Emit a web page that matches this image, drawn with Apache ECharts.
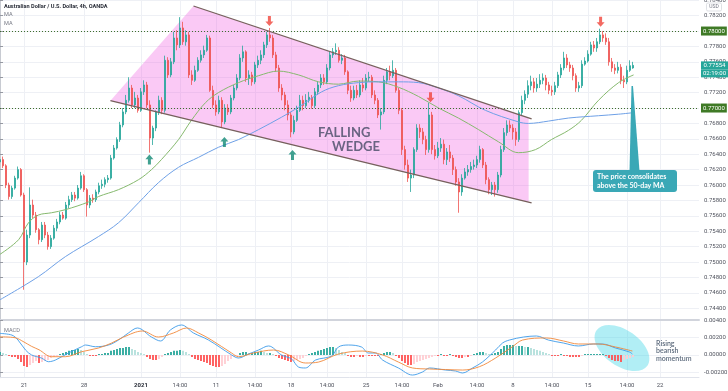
<!DOCTYPE html>
<html><head><meta charset="utf-8">
<script src="https://cdn.jsdelivr.net/npm/echarts/dist/echarts.min.js"></script>
<style>html,body{margin:0;padding:0;background:#fff}#c{width:728px;height:391px}</style>
</head><body><div id="c"></div>
<script>
// ---- data ----
const tickLabels = ['21','28','2021','14:00','11','14:00','18','14:00','25','14:00','Feb','14:00','8','14:00','15','14:00','22'];
const tickIndex  = [8,28,47,60,72,85,97,109,122,134,146,159,171,184,196,209,220];
const slotCount = 234;

// [open, close, low, high]
const candles = [
[0.7630,0.7633,0.7625,0.7639],[0.7633,0.7625,0.7622,0.7637],[0.7625,0.7600,0.7596,0.7627],[0.7600,0.7585,0.7581,0.7603],
[0.7585,0.7596,0.7582,0.7599],[0.7596,0.7609,0.7594,0.7612],[0.7609,0.7620,0.7607,0.7624],[0.7620,0.7587,0.7585,0.7622],
[0.7587,0.7500,0.7464,0.7590],[0.7500,0.7535,0.7496,0.7542],[0.7535,0.7574,0.7531,0.7597],[0.7574,0.7561,0.7557,0.7581],
[0.7561,0.7542,0.7538,0.7565],[0.7542,0.7529,0.7523,0.7544],[0.7529,0.7548,0.7526,0.7552],[0.7548,0.7535,0.7531,0.7552],
[0.7535,0.7520,0.7516,0.7539],[0.7520,0.7531,0.7517,0.7535],[0.7531,0.7544,0.7529,0.7548],[0.7544,0.7552,0.7540,0.7556],
[0.7552,0.7561,0.7549,0.7565],[0.7561,0.7557,0.7555,0.7565],[0.7557,0.7574,0.7555,0.7578],[0.7574,0.7581,0.7570,0.7586],
[0.7581,0.7587,0.7578,0.7591],[0.7587,0.7583,0.7579,0.7591],[0.7583,0.7596,0.7581,0.7600],[0.7596,0.7612,0.7594,0.7617],
[0.7612,0.7594,0.7591,0.7614],[0.7594,0.7574,0.7559,0.7596],[0.7574,0.7583,0.7570,0.7587],[0.7583,0.7581,0.7577,0.7588],
[0.7581,0.7591,0.7578,0.7594],[0.7591,0.7599,0.7588,0.7603],[0.7599,0.7601,0.7595,0.7607],[0.7601,0.7607,0.7597,0.7610],
[0.7607,0.7609,0.7603,0.7613],[0.7609,0.7635,0.7607,0.7639],[0.7635,0.7648,0.7633,0.7652],[0.7648,0.7659,0.7646,0.7662],
[0.7659,0.7678,0.7656,0.7682],[0.7678,0.7695,0.7675,0.7700],[0.7695,0.7710,0.7692,0.7717],[0.7710,0.7726,0.7707,0.7740],
[0.7726,0.7704,0.7700,0.7730],[0.7704,0.7713,0.7700,0.7721],[0.7713,0.7697,0.7694,0.7717],[0.7697,0.7721,0.7695,0.7726],
[0.7721,0.7730,0.7717,0.7736],[0.7730,0.7704,0.7700,0.7734],[0.7704,0.7661,0.7642,0.7710],[0.7661,0.7674,0.7652,0.7677],
[0.7674,0.7695,0.7670,0.7697],[0.7695,0.7710,0.7691,0.7716],[0.7710,0.7697,0.7692,0.7714],[0.7697,0.7762,0.7694,0.7768],
[0.7762,0.7743,0.7739,0.7766],[0.7743,0.7760,0.7740,0.7765],[0.7760,0.7791,0.7757,0.7799],[0.7791,0.7782,0.7775,0.7801],
[0.7782,0.7804,0.7778,0.7818],[0.7804,0.7786,0.7782,0.7812],[0.7786,0.7795,0.7781,0.7801],[0.7795,0.7743,0.7739,0.7799],
[0.7743,0.7736,0.7730,0.7749],[0.7736,0.7749,0.7734,0.7755],[0.7749,0.7762,0.7747,0.7766],[0.7762,0.7769,0.7759,0.7775],
[0.7769,0.7775,0.7765,0.7781],[0.7775,0.7791,0.7773,0.7795],[0.7791,0.7723,0.7721,0.7794],[0.7723,0.7704,0.7700,0.7729],
[0.7704,0.7695,0.7690,0.7710],[0.7695,0.7710,0.7692,0.7716],[0.7710,0.7682,0.7674,0.7714],[0.7682,0.7700,0.7679,0.7705],
[0.7700,0.7695,0.7691,0.7705],[0.7695,0.7713,0.7692,0.7717],[0.7713,0.7726,0.7710,0.7730],[0.7726,0.7739,0.7723,0.7744],
[0.7739,0.7765,0.7736,0.7770],[0.7765,0.7773,0.7760,0.7781],[0.7773,0.7739,0.7734,0.7775],[0.7739,0.7743,0.7730,0.7749],
[0.7743,0.7734,0.7729,0.7747],[0.7734,0.7756,0.7731,0.7760],[0.7756,0.7762,0.7752,0.7768],[0.7762,0.7769,0.7757,0.7775],
[0.7769,0.7782,0.7765,0.7786],[0.7782,0.7795,0.7778,0.7799],[0.7795,0.7791,0.7786,0.7804],[0.7791,0.7769,0.7765,0.7795],
[0.7769,0.7752,0.7747,0.7773],[0.7752,0.7726,0.7721,0.7756],[0.7726,0.7717,0.7710,0.7731],[0.7717,0.7704,0.7697,0.7721],
[0.7704,0.7691,0.7684,0.7710],[0.7691,0.7669,0.7662,0.7695],[0.7669,0.7684,0.7666,0.7690],[0.7684,0.7697,0.7682,0.7703],
[0.7697,0.7710,0.7695,0.7717],[0.7710,0.7703,0.7697,0.7716],[0.7703,0.7710,0.7700,0.7718],[0.7710,0.7714,0.7707,0.7721],
[0.7714,0.7703,0.7699,0.7717],[0.7703,0.7721,0.7700,0.7726],[0.7721,0.7730,0.7717,0.7734],[0.7730,0.7739,0.7726,0.7744],
[0.7739,0.7734,0.7730,0.7744],[0.7734,0.7752,0.7731,0.7757],[0.7752,0.7769,0.7749,0.7773],[0.7769,0.7773,0.7765,0.7778],
[0.7773,0.7775,0.7769,0.7784],[0.7775,0.7762,0.7759,0.7779],[0.7762,0.7765,0.7757,0.7770],[0.7765,0.7747,0.7743,0.7769],
[0.7747,0.7723,0.7718,0.7749],[0.7723,0.7713,0.7708,0.7729],[0.7713,0.7723,0.7710,0.7729],[0.7723,0.7717,0.7713,0.7730],
[0.7717,0.7730,0.7714,0.7736],[0.7730,0.7726,0.7721,0.7739],[0.7726,0.7739,0.7723,0.7744],[0.7739,0.7740,0.7734,0.7747],
[0.7740,0.7717,0.7713,0.7743],[0.7717,0.7710,0.7705,0.7723],[0.7710,0.7691,0.7687,0.7713],[0.7691,0.7695,0.7672,0.7700],
[0.7695,0.7736,0.7692,0.7742],[0.7736,0.7747,0.7731,0.7752],[0.7747,0.7742,0.7736,0.7755],[0.7742,0.7749,0.7739,0.7762],
[0.7749,0.7723,0.7720,0.7752],[0.7723,0.7697,0.7692,0.7726],[0.7697,0.7646,0.7639,0.7700],[0.7646,0.7626,0.7620,0.7651],
[0.7626,0.7609,0.7604,0.7633],[0.7609,0.7613,0.7591,0.7620],[0.7613,0.7646,0.7609,0.7649],[0.7646,0.7674,0.7643,0.7679],
[0.7674,0.7669,0.7661,0.7679],[0.7669,0.7659,0.7653,0.7674],[0.7659,0.7646,0.7639,0.7664],[0.7646,0.7691,0.7642,0.7707],
[0.7691,0.7646,0.7640,0.7695],[0.7646,0.7638,0.7633,0.7652],[0.7638,0.7648,0.7635,0.7656],[0.7648,0.7653,0.7643,0.7661],
[0.7653,0.7633,0.7627,0.7659],[0.7633,0.7643,0.7626,0.7648],[0.7643,0.7635,0.7630,0.7652],[0.7635,0.7620,0.7613,0.7639],
[0.7620,0.7604,0.7599,0.7624],[0.7604,0.7591,0.7564,0.7609],[0.7591,0.7609,0.7586,0.7614],[0.7609,0.7617,0.7607,0.7622],
[0.7617,0.7620,0.7612,0.7626],[0.7620,0.7624,0.7616,0.7630],[0.7624,0.7626,0.7620,0.7633],[0.7626,0.7633,0.7622,0.7638],
[0.7633,0.7646,0.7629,0.7651],[0.7646,0.7626,0.7622,0.7648],[0.7626,0.7607,0.7601,0.7630],[0.7607,0.7594,0.7588,0.7610],
[0.7594,0.7600,0.7587,0.7604],[0.7600,0.7594,0.7585,0.7604],[0.7594,0.7613,0.7590,0.7617],[0.7613,0.7646,0.7610,0.7651],
[0.7646,0.7668,0.7643,0.7674],[0.7668,0.7678,0.7664,0.7684],[0.7678,0.7674,0.7669,0.7684],[0.7674,0.7669,0.7659,0.7679],
[0.7669,0.7659,0.7651,0.7674],[0.7659,0.7694,0.7656,0.7697],[0.7694,0.7710,0.7690,0.7716],[0.7710,0.7718,0.7705,0.7723],
[0.7718,0.7729,0.7713,0.7736],[0.7729,0.7734,0.7723,0.7742],[0.7734,0.7726,0.7720,0.7739],[0.7726,0.7731,0.7721,0.7739],
[0.7731,0.7736,0.7726,0.7744],[0.7736,0.7739,0.7731,0.7745],[0.7739,0.7730,0.7723,0.7743],[0.7730,0.7723,0.7718,0.7734],
[0.7723,0.7721,0.7716,0.7729],[0.7721,0.7729,0.7717,0.7734],[0.7729,0.7743,0.7726,0.7747],[0.7743,0.7752,0.7739,0.7757],
[0.7752,0.7765,0.7749,0.7773],[0.7765,0.7756,0.7752,0.7770],[0.7756,0.7752,0.7747,0.7760],[0.7752,0.7742,0.7736,0.7756],
[0.7742,0.7726,0.7721,0.7745],[0.7726,0.7729,0.7721,0.7734],[0.7729,0.7757,0.7726,0.7762],[0.7757,0.7761,0.7755,0.7766],
[0.7761,0.7770,0.7759,0.7775],[0.7770,0.7782,0.7768,0.7786],[0.7782,0.7778,0.7773,0.7787],[0.7778,0.7786,0.7773,0.7791],
[0.7786,0.7795,0.7783,0.7803],[0.7795,0.7791,0.7786,0.7800],[0.7791,0.7786,0.7782,0.7797],[0.7786,0.7760,0.7755,0.7791],
[0.7760,0.7752,0.7747,0.7765],[0.7752,0.7749,0.7744,0.7757],[0.7749,0.7753,0.7745,0.7760],[0.7753,0.7736,0.7731,0.7757],
[0.7736,0.7734,0.7726,0.7742],[0.7734,0.7749,0.7731,0.7755],[0.7749,0.7755,0.7747,0.7762],[0.7752,0.77554,0.7751,0.7760]
];

// moving averages: [bar position, price]
const maFast = [[0,0.7510],[6.2,0.7529],[9.5,0.7551],[12.8,0.7561],[17.2,0.7564],[21.8,0.7568],[29.5,0.7578],[32.8,0.7585],
[39.5,0.7594],[46.2,0.7607],[50.5,0.7620],[53.8,0.7633],[59.5,0.7659],[63.8,0.7684],[68.5,0.7707],[72.8,0.7720],[79.5,0.7733],
[86.2,0.7742],[92.8,0.7748],[99.5,0.7743],[106.2,0.7734],[112.8,0.7731],[119.5,0.7735],[126.2,0.7734],[132.8,0.7727],
[139.5,0.7715],[146.2,0.7700],[152.8,0.7687],[159.5,0.7672],[166.2,0.7656],[172.8,0.7642],[178.5,0.7646],[183.8,0.7659],
[189.5,0.7671],[193.8,0.7684],[199.5,0.7710],[206.2,0.7733],[211.2,0.7743]];
const maSlow = [[0,0.7451],[12.8,0.7481],[21.8,0.7507],[32.8,0.7533],[39.5,0.7551],[46.2,0.7577],[52.8,0.7603],[59.5,0.7623],
[66.2,0.7636],[72.8,0.7649],[79.5,0.7659],[86.2,0.7672],[93.8,0.7688],[99.5,0.7701],[107.2,0.7721],[112.8,0.7729],
[119.5,0.7733],[126.2,0.7734],[132.8,0.7734],[139.5,0.7733],[146.2,0.7726],[152.8,0.7716],[161.8,0.7697],[172.8,0.7682],
[176.2,0.7680],[182.8,0.7683],[189.5,0.7687],[199.5,0.7690],[206.2,0.7692],[211.2,0.7694]];

// MACD
const macdLine = [[0,0.0025],[4,0.0023],[6,0.00173],[8.5,0.00057],[10.5,0],[13.8,-0.00036],[16.2,-0.00079],[18.5,-0.00059],
[22.8,0.00022],[27.2,0.00095],[28.5,0.00115],[31.8,0.00095],[36.2,0.00115],[39.5,0.00173],[42.8,0.00255],[45.8,0.00313],
[50.5,0.00208],[53.5,0.00162],[56.8,0.0029],[60.5,0.00348],[64.5,0.00255],[69.5,0.00173],[77.2,0],[79.5,-0.00036],
[82.8,0.0001],[86.2,0.00057],[89.5,0.00104],[93.8,0],[97.2,-0.00048],[99.5,-0.00141],[101.8,-0.00152],[105.2,-0.00059],
[110.5,-0.00013],[112.8,0.00092],[116.2,0.00115],[120.5,0.00092],[122.8,0.00022],[125.2,0.00022],[127.5,-0.00059],
[132.8,-0.00152],[137.5,-0.00234],[140.8,-0.00199],[143.2,-0.00152],[148.5,-0.00176],[151.8,-0.00187],[154.2,-0.0021],
[157.5,-0.00152],[160.8,-0.00083],[165.2,0.00057],[167.5,0.00138],[169.8,0.00173],[174.5,0.00208],[178.8,0.0022],
[182.8,0.00173],[187.8,0.00138],[192.8,0.00104],[197.8,0.00127],[200.8,0.00127],[205.2,0.0008],[209.8,0.00034],[210.8,0.0001]];
const signalLine = [[0,0.0021],[5,0.002],[8,0.0015],[10.5,0.001],[13,0.0006],[17.2,-0.00021],[21.8,-0.00021],[27.2,0.00037],
[32.8,0.0008],[37.2,0.00138],[41.2,0.00208],[47.5,0.00278],[52.8,0.00208],[57.8,0.00255],[62.2,0.00313],[66.2,0.00255],
[70.5,0.00173],[77.2,0.00022],[79.5,-0.00021],[84.5,0.00022],[91.2,0.00057],[96.2,0],[101.8,-0.00094],[106.2,-0.00083],
[112.8,0.0001],[120.8,0.00045],[127.5,0],[132.8,-0.00083],[137.5,-0.00152],[143.2,-0.00164],[148.5,-0.0017],[154.2,-0.00176],
[159.8,-0.00137],[165.2,-0.00036],[170.8,0.00095],[174.2,0.00173],[182.2,0.00197],[187.8,0.00162],[192.8,0.00127],
[199.5,0.00127],[205.2,0.00092],[210.8,0.00045]];
const histogram = [
0.00035,0.00023,0.00012,-0.00012,-0.00023,-0.00023,-0.00047,-0.00081,-0.00128,-0.0014,
-0.00116,-0.00093,-0.0007,-0.00093,-0.00081,-0.0007,-0.00058,-0.00035,-0.00023,-0.00012,
0.00012,0.00023,0.00035,0.00047,0.00058,0.00058,0.0007,0.00058,0.00035,0.00012,
-0.00012,-0.00012,-0.00012,0.00012,0.00012,0.00023,0.00023,0.00047,0.00058,0.0007,
0.00081,0.00081,0.00093,0.00093,0.0007,0.00058,0.00035,0.00023,0.00012,-0.00023,
-0.00047,-0.00058,-0.00058,-0.00047,-0.00023,0.00012,0.00023,0.00035,0.00047,0.00047,
0.00058,0.00047,0.00035,0.00012,-0.00023,-0.00047,-0.00058,-0.0007,-0.00081,-0.00093,
-0.00116,-0.00128,-0.0014,-0.0014,-0.00128,-0.00105,-0.0007,-0.00047,-0.00023,-0.00012,
0.00023,0.00035,0.00035,0.00023,0.00023,0.00035,0.00035,0.00047,0.00035,0.00023,
0.00023,0.00012,-0.00012,-0.00035,-0.00047,-0.00058,-0.0007,-0.00081,-0.0007,-0.00058,
-0.00047,-0.00035,-0.00012,0.00012,0.00023,0.00035,0.00047,0.00058,0.0007,0.00081,
0.00093,0.00093,0.00081,0.00058,0.00035,0.00023,-0.00012,-0.00023,-0.00023,-0.00012,
-0.00023,-0.00023,-0.00012,-0.00012,-0.00012,-0.00012,-0.00012,0.00012,0.00023,0.00035,
0.00035,0.00023,-0.00012,-0.00035,-0.0007,-0.00093,-0.00116,-0.00116,-0.00105,-0.00081,
-0.0007,-0.00058,-0.00047,-0.00035,-0.00023,-0.00012,-0.00012,0.00012,-0.00012,-0.00012,
0.00012,-0.00012,-0.00023,-0.00035,-0.00035,-0.00023,-0.00023,-0.00012,0.00012,0.00023,
0.00035,0.00035,0.00023,0.00012,0.00012,0.00023,0.00035,0.0007,0.00105,0.00116,
0.00116,0.00116,0.00105,0.00105,0.00105,0.00093,0.00093,0.00081,0.0007,0.00058,
0.00047,0.00035,0.00023,0.00012,-0.00012,-0.00012,-0.00012,0.00012,-0.00012,-0.00012,
-0.00023,-0.00023,-0.00023,-0.00023,-0.00012,0.00012,0.00012,0.00012,0.00012,0.00012,
0.00012,0.00012,-0.00012,-0.00035,-0.00058,-0.0007,-0.0007,-0.00081,-0.00058,-0.00047,
-0.00035,-0.00023];

const levels = [0.78, 0.77];
const lastPrice = 0.77554;
const countdown = '02:19:00';

// drawing annotations in chart coordinates [bar position, price]
const wedgeUpper = [[64.5,0.78325],[177.2,0.76858]];
const wedgeLower = [[36.8,0.77095],[177.2,0.75767]];
const wedgeZone  = [[36.8,0.77095],[64.5,0.78325],[176.2,0.76871],[176.2,0.75776]];
const arrowsDown = [[89.8,0.7813],[143.5,0.7714],[200.2,0.7812]];
const arrowsUp   = [[49.8,0.7633],[74.8,0.7656],[97.5,0.7639]];

// ---- chart ----
const cats = Array.from({length: slotCount}, (_, i) => String(i));
const labelAt = {};
tickIndex.forEach((k, j) => { labelAt[k] = tickLabels[j]; });
const isTick = (i) => labelAt[i] !== undefined;
const GRID = '#eef0f5';
const AXIS_TXT = '#50535e';
const FONT = 'Roboto';
const arrowPath = 'path://M4,0L8,4.6L5.5,4.6L5.5,10L2.5,10L2.5,4.6L0,4.6Z';

const chart = echarts.init(document.getElementById('c'), null, {renderer: 'canvas'});

const catAxis = (gi, showLabels) => ({
  type: 'category', gridIndex: gi, data: cats, boundaryGap: false,
  axisTick: {show: false},
  axisLine: {show: true, onZero: false, lineStyle: gi === 0 ? {color: '#d1d4dc', width: 2} : {color: '#e0e3eb', width: 1}},
  axisLabel: showLabels ? {
    show: true, interval: (i) => isTick(i), fontSize: 6, color: AXIS_TXT, fontFamily: FONT, margin: 5,
    formatter: (v) => { const t = labelAt[+v] || ''; return t === '2021' ? '{b|2021}' : t; },
    rich: {b: {fontWeight: 'bold', fontSize: 6, color: '#2a2e39', fontFamily: FONT}}
  } : {show: false},
  splitLine: {show: true, interval: (i) => isTick(i), lineStyle: {color: GRID, width: 1}}
});

const tagStyle = {backgroundColor: '#26a69a', color: '#fff', fontSize: 6, fontFamily: FONT, width: 23, height: 7, lineHeight: 8, padding: [0.5, 2], align: 'center'};

const option = {
  animation: false,
  grid: [
    {left: 0, right: 29, top: 0, height: 320, outerBoundsMode: 'none', containLabel: false},
    {left: 0, right: 29, top: 320, height: 57.7, outerBoundsMode: 'none', containLabel: false}
  ],
  xAxis: [
    catAxis(0, false),
    catAxis(1, true),
    {type: 'value', gridIndex: 0, min: 0, max: slotCount - 1, show: false},
    {type: 'value', gridIndex: 1, min: 0, max: slotCount - 1, show: false}
  ],
  yAxis: [
    {type: 'value', gridIndex: 0, position: 'right', min: 0.74247, max: 0.78403, splitNumber: 20,
     minInterval: 0.002, maxInterval: 0.002,
     axisLine: {show: true, lineStyle: {color: '#c8cbd2'}},
     axisTick: {show: true, length: 3, lineStyle: {color: '#9598a1'}},
     axisLabel: {fontSize: 6, color: AXIS_TXT, fontFamily: FONT, margin: 5, showMinLabel: false, showMaxLabel: false,
       formatter: (v) => v.toFixed(5)},
     splitLine: {show: true, lineStyle: {color: GRID}}},
    {type: 'value', gridIndex: 1, position: 'right', min: -0.00265, max: 0.00406, splitNumber: 3,
     minInterval: 0.002, maxInterval: 0.002,
     axisLine: {show: true, lineStyle: {color: '#c8cbd2'}},
     axisTick: {show: true, length: 3, lineStyle: {color: '#9598a1'}},
     axisLabel: {fontSize: 6, color: AXIS_TXT, fontFamily: FONT, margin: 5, showMinLabel: false, showMaxLabel: false,
       formatter: (v) => (Math.abs(v) < 1e-9 ? 0 : v).toFixed(5)},
     splitLine: {show: true, lineStyle: {color: GRID}}}
  ],
  series: [
    {type: 'custom', name: 'wedge zone', xAxisIndex: 2, yAxisIndex: 0, z: 1, silent: true, data: [[0, 0.76]],
     renderItem: (params, api) => ({type: 'polygon', shape: {points: wedgeZone.map(p => api.coord(p))},
       style: {fill: 'rgba(240,90,225,0.33)'}})},
    {type: 'candlestick', name: 'AUDUSD', xAxisIndex: 0, yAxisIndex: 0, data: candles, barWidth: 1.6, z: 3,
     itemStyle: {color: '#26a69a', color0: '#ef5350', borderColor: '#26a69a', borderColor0: '#ef5350', borderWidth: 0.8},
     markLine: {
       symbol: ['none', 'none'], silent: true, animation: false, precision: 5,
       data: levels.map(v => ({
         yAxis: v,
         lineStyle: {color: '#3f6e2c', type: [1, 2], width: 1},
         label: {show: true, position: 'end', distance: 2, formatter: () => v.toFixed(5),
           backgroundColor: '#3f7a26', color: '#fff', fontSize: 6, fontFamily: FONT, padding: [1.5, 2]}
       })).concat([{
         yAxis: lastPrice,
         lineStyle: {color: 'rgba(0,0,0,0)', width: 1, type: 'solid'},
         label: {show: true, position: 'end', distance: 2, opacity: 1, color: '#fff',
           formatter: '{e| }\n{a|' + lastPrice.toFixed(5) + '}\n{b|' + countdown + '}',
           rich: {e: {fontSize: 6, lineHeight: 8, height: 8}, a: tagStyle, b: tagStyle}}
       }])
     }},
    {type: 'line', name: 'MA 50', xAxisIndex: 2, yAxisIndex: 0, data: maFast, symbol: 'none', smooth: 0.35, z: 4,
     lineStyle: {color: '#86b96e', width: 1}},
    {type: 'line', name: 'MA 100', xAxisIndex: 2, yAxisIndex: 0, data: maSlow, symbol: 'none', smooth: 0.35, z: 4,
     lineStyle: {color: '#6ea0e6', width: 1}},
    {type: 'line', name: 'upper', xAxisIndex: 2, yAxisIndex: 0, data: wedgeUpper, symbol: 'none', z: 5,
     lineStyle: {color: '#76605c', width: 1.3}},
    {type: 'line', name: 'lower', xAxisIndex: 2, yAxisIndex: 0, data: wedgeLower, symbol: 'none', z: 5,
     lineStyle: {color: '#76605c', width: 1.3}},
    {type: 'scatter', name: 'down', xAxisIndex: 2, yAxisIndex: 0, data: arrowsDown, symbol: arrowPath, symbolSize: [8, 10],
     symbolRotate: 180, itemStyle: {color: '#f0433a'}, z: 6, silent: true},
    {type: 'scatter', name: 'up', xAxisIndex: 2, yAxisIndex: 0, data: arrowsUp, symbol: arrowPath, symbolSize: [8, 10],
     itemStyle: {color: '#128a76'}, z: 6, silent: true},
    {type: 'bar', name: 'Histogram', xAxisIndex: 1, yAxisIndex: 1, data: histogram, barWidth: 1.8, z: 3,
     itemStyle: {color: (p) => {
       const v = histogram[p.dataIndex];
       const prev = p.dataIndex > 0 ? histogram[p.dataIndex - 1] : v;
       if (v >= 0) return v >= prev ? '#26a69a' : '#b2dfdb';
       return v <= prev ? '#ff5252' : '#ffcdd2';
     }}},
    {type: 'line', name: 'MACD', xAxisIndex: 3, yAxisIndex: 1, data: macdLine, symbol: 'none', smooth: 0.35, z: 4,
     lineStyle: {color: '#3d9be9', width: 0.9}},
    {type: 'line', name: 'Signal', xAxisIndex: 3, yAxisIndex: 1, data: signalLine, symbol: 'none', smooth: 0.35, z: 4,
     lineStyle: {color: '#f0883a', width: 0.9}}
  ],
  graphic: {elements: [
    {type: 'text', x: 4, y: 7, z: 20, style: {text: 'Australian Dollar / U.S. Dollar, 4h, OANDA', font: 'bold 5.6px Roboto', fill: '#2a2e39', verticalAlign: 'middle'}},
    {type: 'text', x: 4, y: 15, z: 20, style: {text: 'MA', font: '5.6px Roboto', fill: '#787b86', verticalAlign: 'middle'}},
    {type: 'text', x: 4, y: 24, z: 20, style: {text: 'MA', font: '5.6px Roboto', fill: '#787b86', verticalAlign: 'middle'}},
    {type: 'text', x: 4, y: 331, z: 20, style: {text: 'MACD', font: '5.6px Roboto', fill: '#787b86', verticalAlign: 'middle'}},
    {type: 'rect', z: 20, shape: {x: 706.5, y: 3, width: 15, height: 8, r: 1.5}, style: {fill: '#fff', stroke: '#c9ccd3', lineWidth: 0.6}},
    {type: 'text', x: 714, y: 7.2, z: 21, style: {text: 'USD', font: '5px Roboto', fill: '#787b86', align: 'center', verticalAlign: 'middle'}},
    {type: 'text', x: 318, y: 133, z: 20, style: {text: 'FALLING', font: 'bold 13px Lato', fill: '#6a6482', verticalAlign: 'middle'}},
    {type: 'text', x: 332, y: 147, z: 20, style: {text: 'WEDGE', font: 'bold 13px Lato', fill: '#6a6482', verticalAlign: 'middle'}},
    {type: 'polygon', z: 20, shape: {points: [[629.5, 171], [639.5, 171], [633, 86], [631.5, 86]]}, style: {fill: '#3aa8b6'}},
    {type: 'rect', z: 20, shape: {x: 593, y: 170, width: 84, height: 22, r: 3}, style: {fill: '#3aa8b6'}},
    {type: 'text', x: 597, y: 181, z: 21, style: {text: 'The price consolidates\nabove the 50-day MA', font: 'bold 7px Lato', fill: '#ffffff', verticalAlign: 'middle', lineHeight: 9.5}},
    {type: 'ellipse', z: 1, shape: {cx: 622, cy: 348, rx: 31, ry: 18}, rotation: -0.61, originX: 622, originY: 348, style: {fill: 'rgba(70,215,232,0.42)'}},
    {type: 'text', x: 656, y: 351, z: 20, style: {text: 'Rising\nbearish\nmomentum', font: '600 7px Lato', fill: '#5d6b7d', verticalAlign: 'middle', lineHeight: 7.5}}
  ]}
};
chart.setOption(option);
</script>
</body></html>
